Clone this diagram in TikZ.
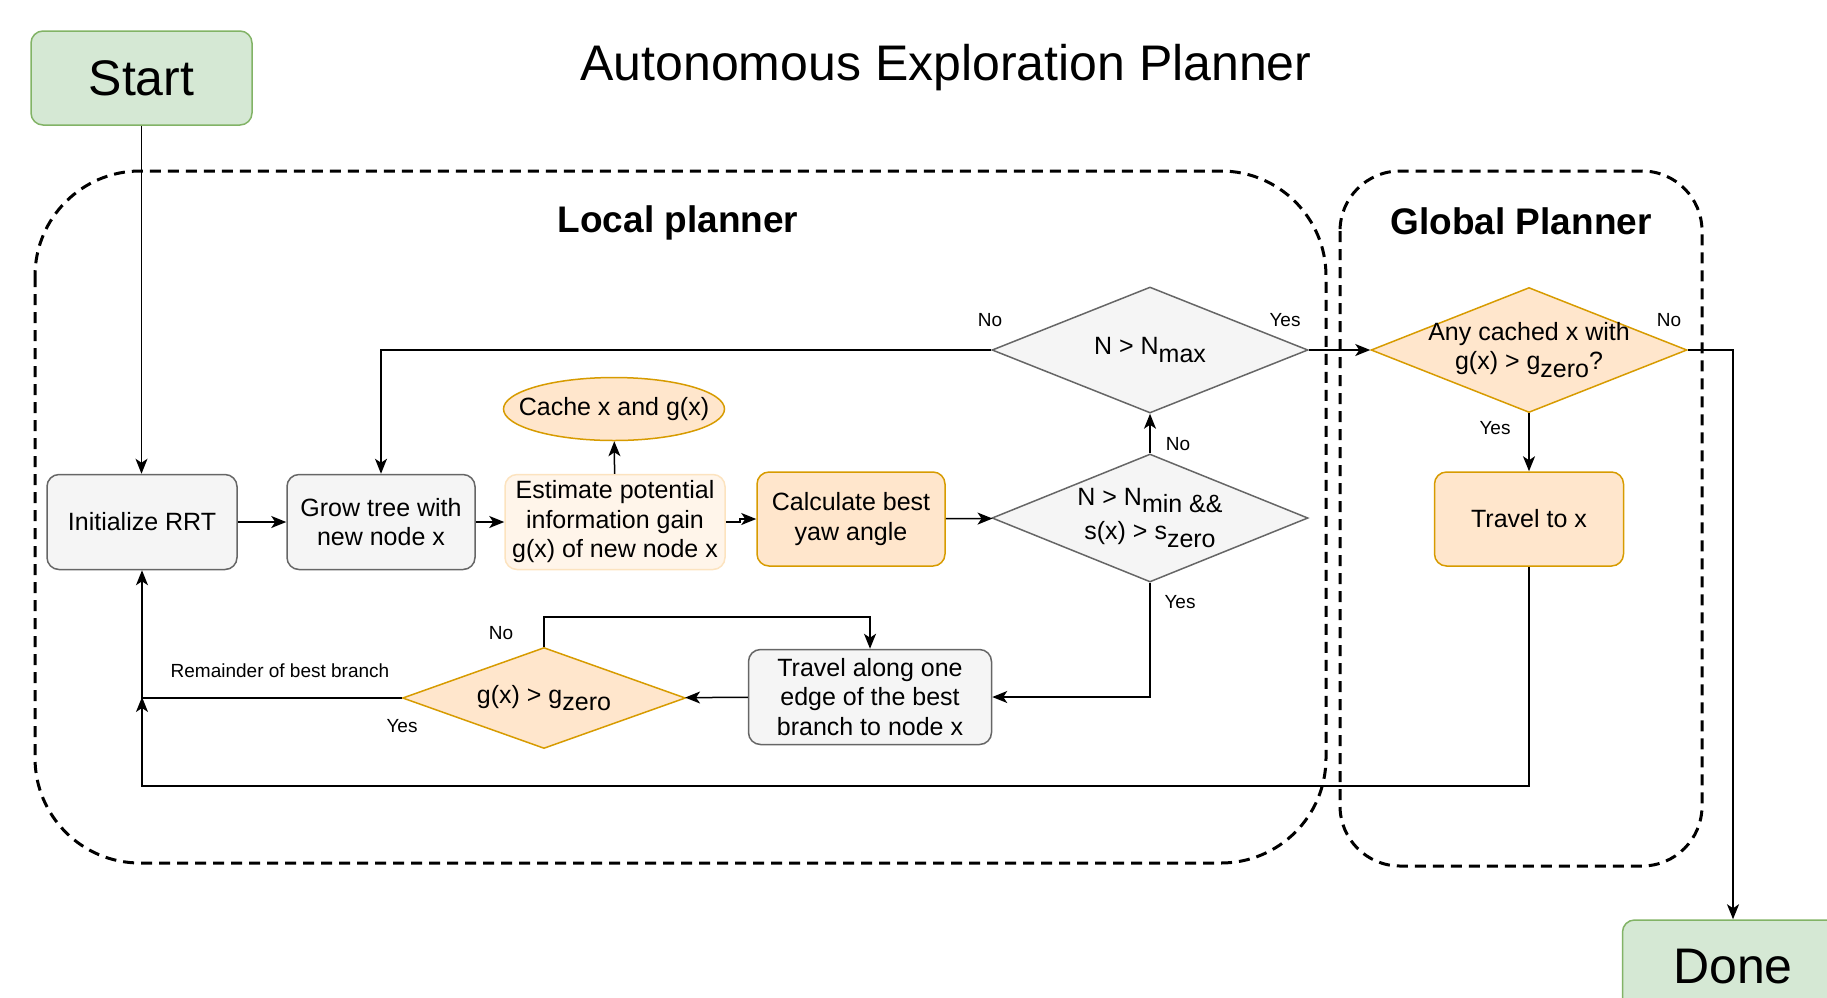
\documentclass[tikz,border=0pt]{standalone}
\usepackage{fontspec}
\setmainfont{Liberation Sans}
\usetikzlibrary{shapes.geometric,arrows.meta}
\definecolor{greenfill}{HTML}{D5E8D4}
\definecolor{greenline}{HTML}{82B366}
\definecolor{greyfill}{HTML}{F5F5F5}
\definecolor{greyline}{HTML}{666666}
\definecolor{orangefill}{HTML}{FFE6CC}
\definecolor{orangeline}{HTML}{D79B00}
\definecolor{palefill}{HTML}{FFF5EA}
\definecolor{paleline}{HTML}{FCE3BF}
\newcommand\boxfont{\fontsize{25}{29.5}\selectfont}
\newcommand\lblfont{\fontsize{19}{22}\selectfont}
\newcommand\ttlfont{\fontsize{50}{58}\selectfont}
\newcommand\headfont{\fontsize{37}{44}\selectfont\bfseries}
\newcommand\lowsub[1]{\raisebox{-0.3em}{#1}}
\tikzstyle{block}=[rectangle, rounded corners=12pt, line width=1.5pt, align=center, font=\boxfont, inner sep=0pt]
\tikzstyle{decision}=[diamond, line width=1.5pt, inner sep=0pt]
\tikzset{greenbox/.style={fill=greenfill, draw=greenline, font=\ttlfont}}
\tikzset{greybox/.style={fill=greyfill, draw=greyline}}
\tikzset{orangebox/.style={fill=orangefill, draw=orangeline}}
\tikzset{palebox/.style={fill=palefill, draw=paleline}}
\tikzset{link/.style={->, line width=1.5pt}}
\tikzset{lbl/.style={font=\lblfont}}
\tikzset{zone/.style={draw, line width=3pt, dash pattern=on 11pt off 7pt}}
\tikzset{>={Stealth[length=15pt,width=12pt,inset=4pt]}}

\begin{document}
\begin{tikzpicture}[x=1pt,y=-1pt]
  \useasboundingbox (0,0) rectangle (1827,997);
  \draw (946,68) node[font=\ttlfont] (title) {Autonomous Exploration Planner};

  %% Planner regions
  \draw[zone, rounded corners=105pt] (35,171) rectangle (1326,863);
  \draw[zone, rounded corners=60pt] (1340,171) rectangle (1702,866);
  \draw (678,223) node[font=\headfont] (localtitle) {Local planner};
  \draw (1521,221) node[font=\headfont] (globaltitle) {Global Planner};

  \draw (141.5,78) node[block, greenbox, minimum width=221pt, minimum height=94pt] (start) {Start};
  \draw (1733,967) node[block, greenbox, minimum width=221pt, minimum height=94pt] (done) {Done};

  \draw (142,522) node[block, greybox, minimum width=190pt, minimum height=95pt] (init) {Initialize RRT};
  \draw (381,522) node[block, greybox, minimum width=188pt, minimum height=95pt] (grow) {Grow tree with\\new node x};
  \draw (615,522) node[block, palebox, minimum width=220pt, minimum height=95pt] (est) {Estimate potential\\information gain\\g(x) of new node x};
  \draw (614,409) node[ellipse, orangebox, line width=1.5pt, inner sep=0pt, minimum width=221pt, minimum height=63pt,
    label={[name=cachetext, font=\boxfont]center:Cache x and g(x)}] (cache) {};
  \draw (851,519) node[block, orangebox, minimum width=188pt, minimum height=94pt] (calc) {Calculate best\\yaw angle};

  \draw (1150,518) node[decision, greybox, minimum width=316pt, minimum height=128pt,
    label={[name=nmintext, font=\boxfont, align=center]center:N > N\lowsub{min \&\&}\\[5pt]s(x) > s\lowsub{zero}}] (nmin) {};
  \draw (1150,350) node[decision, greybox, minimum width=316pt, minimum height=126pt,
    label={[name=nmaxtext, font=\boxfont]center:N > N\lowsub{max}}] (nmax) {};
  \draw (1529,350) node[decision, orangebox, minimum width=316pt, minimum height=125pt,
    label={[name=globtext, font=\boxfont, align=center]center:Any cached x with\\g(x) > g\lowsub{zero}?}] (glob) {};
  \draw (1529,519) node[block, orangebox, minimum width=189pt, minimum height=94pt] (travel) {Travel to x};

  \draw (870,697) node[block, greybox, minimum width=243pt, minimum height=95pt] (along) {Travel along one\\edge of the best\\branch to node x};
  \draw (544,698) node[decision, orangebox, minimum width=283pt, minimum height=101pt,
    label={[name=gdiatext, font=\boxfont]center:g(x) > g\lowsub{zero}}] (gdia) {};

  \coordinate (back) at (142,786);
  \coordinate (rest) at (142,698);

  \draw[link] (start.south) -- (start.south |- init.north);
  \draw[link] (init) -- (grow);
  \draw[link] (grow) -- (est);
  \draw[link] (est) -- (cache);
  \draw[link] (est.east) -- ++(14,0) |- (calc.west);
  \draw[link] (calc) -- (nmin);
  \draw[link] (nmin) -- (nmax);
  \draw[link] (nmax.west) -| (grow.north);
  \draw[link] (nmax) -- (glob);
  \draw[link] (glob.east) -| (done.north);
  \draw[link] (glob) -- (travel);
  \draw[link] (travel.south) |- (back) -- (init.south);
  \draw[link] (nmin.south) |- (along.east);
  \draw[link] (along) -- (gdia);
  \draw[link] (gdia.north) -- ++(0,-30) -| (along.north);
  \draw[link] (gdia.west) -- (rest) -- ++(0,-1);

  %% Branch labels
  \draw (990,320) node[lbl] (nmaxno) {No};
  \draw (1285,320) node[lbl] (nmaxyes) {Yes};
  \draw (1669,320) node[lbl] (globno) {No};
  \draw (1495,428) node[lbl] (globyes) {Yes};
  \draw (1178,444) node[lbl] (nminno) {No};
  \draw (1180,602) node[lbl] (nminyes) {Yes};
  \draw (501,633) node[lbl] (gdiano) {No};
  \draw (402,726) node[lbl] (gdiayes) {Yes};
  \draw (280,671) node[lbl] (remainder) {Remainder of best branch};
\end{tikzpicture}
\end{document}
